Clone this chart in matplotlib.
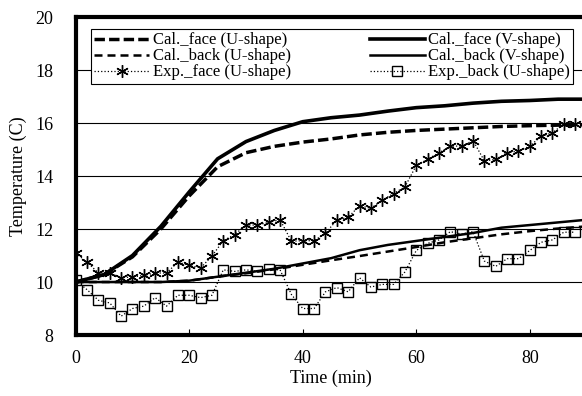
import numpy as np
import matplotlib
matplotlib.use("Agg")
import matplotlib.pyplot as plt

plt.rcParams['font.family'] = ['Liberation Serif', 'DejaVu Serif']

# calculated curves (every 5 min)
t_calc = [0, 5, 10, 15, 20, 25, 30, 35, 40, 45, 50, 55, 60, 65, 70, 75, 80, 85, 90]
cal_face_u = [10.0, 10.28, 10.95, 12.0, 13.25, 14.35, 14.88, 15.12, 15.28, 15.4,
              15.55, 15.65, 15.72, 15.77, 15.82, 15.87, 15.9, 15.92, 15.93]
cal_back_u = [10.0, 10.0, 10.0, 10.0, 10.05, 10.2, 10.33, 10.48, 10.65, 10.82,
              10.98, 11.15, 11.32, 11.5, 11.65, 11.8, 11.92, 12.02, 12.1]
cal_face_v = [10.0, 10.28, 11.0, 12.1, 13.4, 14.65, 15.3, 15.72, 16.05, 16.2,
              16.3, 16.45, 16.58, 16.65, 16.75, 16.82, 16.85, 16.9, 16.9]
cal_back_v = [10.0, 10.0, 10.0, 10.0, 10.05, 10.2, 10.35, 10.5, 10.7, 10.9,
              11.2, 11.4, 11.55, 11.7, 11.85, 12.05, 12.15, 12.25, 12.35]

# measurements (every 2 min)
t_exp = list(range(0, 89, 2))
exp_face_u = [11.09, 10.75, 10.34, 10.34, 10.16, 10.19, 10.25, 10.34, 10.34, 10.75,
              10.63, 10.53, 10.98, 11.56, 11.79, 12.15, 12.15, 12.25, 12.35, 11.54,
              11.56, 11.56, 11.84, 12.34, 12.44, 12.88, 12.78, 13.09, 13.34, 13.59,
              14.4, 14.63, 14.88, 15.13, 15.13, 15.34, 14.57, 14.63, 14.88, 14.94,
              15.13, 15.5, 15.63, 15.97, 15.97]
exp_back_u = [10.06, 9.71, 9.31, 9.21, 8.71, 9.0, 9.09, 9.41, 9.09, 9.5,
              9.5, 9.41, 9.5, 10.46, 10.4, 10.46, 10.4, 10.48, 10.46, 9.53,
              9.0, 9.0, 9.63, 9.79, 9.63, 10.16, 9.81, 9.91, 9.91, 10.38,
              11.19, 11.46, 11.59, 11.9, 11.81, 11.9, 10.79, 10.59, 10.88, 10.88,
              11.19, 11.5, 11.59, 11.88, 11.88]

fig = plt.figure(figsize=(5.82, 3.96), dpi=100)
ax = fig.add_axes([0.1301, 0.154, 0.8777, 0.803])

h1, = ax.plot(t_calc, cal_face_u, color='black', lw=2.5, dashes=(3, 1.2),
              label='Cal._face (U-shape)')
h2, = ax.plot(t_calc, cal_back_u, color='black', lw=1.8, dashes=(3.2, 2),
              label='Cal._back (U-shape)')
h3, = ax.plot(t_exp, exp_face_u, color='black', lw=0.9, ls=':', marker=(6, 2, 0),
              ms=9, mew=1.0, label='Exp._face (U-shape)')
h4, = ax.plot(t_calc, cal_face_v, color='black', lw=2.6, label='Cal._face (V-shape)')
h5, = ax.plot(t_calc, cal_back_v, color='black', lw=1.8, label='Cal._back (V-shape)')
h6, = ax.plot(t_exp, exp_back_u, color='black', lw=0.9, ls=':', marker='s', ms=6.5,
              mfc='none', mew=1.0, label='Exp._back (U-shape)')

ax.set_xlim(0, 90)
ax.set_ylim(8, 20)
ax.set_xticks([0, 20, 40, 60, 80])
ax.set_yticks([8, 10, 12, 14, 16, 18, 20])
ax.yaxis.grid(True, color='black', lw=0.8)
ax.set_axisbelow(True)
ax.tick_params(axis='x', direction='in', length=4, width=0.8, pad=11, labelsize=13)
ax.tick_params(axis='y', direction='in', length=0, pad=16, labelsize=13)
for s in ['left', 'top', 'bottom']:
    ax.spines[s].set_linewidth(3)
ax.spines['right'].set_visible(False)

ax.set_xlabel('Time (min)', fontsize=13, labelpad=2)
ax.set_ylabel('Temperature (C)', fontsize=13, labelpad=6)

leg = ax.legend(handles=[h1, h2, h3, h4, h5, h6], ncol=2, loc='upper left',
                bbox_to_anchor=(0.030, 0.762, 0.9436, 0.2), mode='expand',
                borderaxespad=0, fontsize=12,
                frameon=True, fancybox=False, edgecolor='black', framealpha=1,
                handlelength=3.3, handletextpad=0.2, labelspacing=0.0,
                borderpad=0.2, numpoints=1)
leg.get_frame().set_linewidth(0.8)

fig.savefig('out.png', dpi=100)
